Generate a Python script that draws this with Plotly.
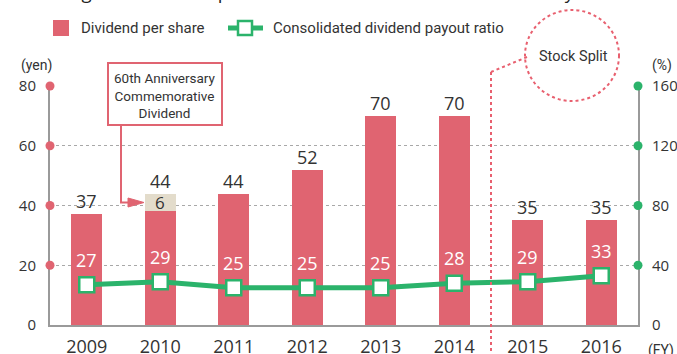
import plotly.graph_objects as go

# ---- data -------------------------------------------------------------
fiscal_years = ["2009", "2010", "2011", "2012", "2013", "2014", "2015", "2016"]
dividend_per_share = [37, 44, 44, 52, 70, 70, 35, 35]          # yen, total
commemorative_dividend = [0, 6, 0, 0, 0, 0, 0, 0]               # yen, 60th anniversary part
payout_ratio = [27, 29, 25, 25, 25, 28, 29, 33]                 # %
yen_ticks = [0, 20, 40, 60, 80]
pct_ticks = [0, 40, 80, 120, 160]

ordinary_dividend = [t - c for t, c in zip(dividend_per_share, commemorative_dividend)]
xs = list(range(len(fiscal_years)))

# ---- styling ----------------------------------------------------------
W, H = 677, 354
ML, MR, MT, MB = 50, 39, 86, 29
PW, PH = W - ML - MR, H - MT - MB
RED = "#E06471"
BEIGE = "#E3DCCB"
GREEN = "#2BB36B"
AXIS = "#9A9A9A"
TEXT = "#333333"
NUM_FONT = "Open Sans"
LBL_FONT = "Roboto"


def px(x):
    """pixel x -> paper x"""
    return (x - ML) / PW


def py(y):
    """pixel y (from top) -> paper y"""
    return (H - MB - y) / PH


def label(x, y, text, size, xanchor="center", family=LBL_FONT, color=TEXT, yanchor="middle"):
    return dict(x=px(x), y=py(y), xref="paper", yref="paper", xanchor=xanchor, yanchor=yanchor,
                text=text, showarrow=False, font=dict(family=family, size=size, color=color))


fig = go.Figure()

# stacked dividend bars
fig.add_trace(go.Bar(x=xs, y=ordinary_dividend, width=0.42, marker=dict(color=RED, line_width=0),
                     showlegend=False, hoverinfo="skip"))
fig.add_trace(go.Bar(x=xs, y=commemorative_dividend, width=0.42, marker=dict(color=BEIGE, line_width=0),
                     showlegend=False, hoverinfo="skip"))

# payout ratio line on the right axis
fig.add_trace(go.Scatter(x=xs, y=payout_ratio, yaxis="y2", mode="lines+markers",
                         line=dict(color=GREEN, width=5),
                         marker=dict(symbol="square", size=15, color="white",
                                     line=dict(color=GREEN, width=2.5)),
                         cliponaxis=False, showlegend=False, hoverinfo="skip"))

# tick dots on the axis lines
fig.add_trace(go.Scatter(x=[-0.5] * 4, y=yen_ticks[1:], mode="markers",
                         marker=dict(color=RED, size=9), cliponaxis=False,
                         showlegend=False, hoverinfo="skip"))
fig.add_trace(go.Scatter(x=[7.5] * 4, y=pct_ticks[1:], yaxis="y2", mode="markers",
                         marker=dict(color=GREEN, size=9), cliponaxis=False,
                         showlegend=False, hoverinfo="skip"))

ann = []
# dividend totals above bars
for x, v in zip(xs, dividend_per_share):
    ann.append(dict(x=x, y=v, xref="x", yref="y", text=str(v), showarrow=False,
                    xanchor="center", yanchor="middle", yshift=13,
                    font=dict(family=NUM_FONT, size=18, color=TEXT)))
# commemorative amount inside its segment
for x, o, c in zip(xs, ordinary_dividend, commemorative_dividend):
    if c:
        ann.append(dict(x=x, y=o + c / 2, xref="x", yref="y", text=str(c), showarrow=False,
                        xanchor="center", yanchor="middle",
                        font=dict(family=NUM_FONT, size=17, color=TEXT)))
# payout ratio labels
for x, v in zip(xs, payout_ratio):
    ann.append(dict(x=x, y=v, xref="x", yref="y2", text=str(v), showarrow=False,
                    xanchor="center", yanchor="middle", yshift=25,
                    font=dict(family=NUM_FONT, size=18, color="white")))

# unit labels
ann.append(label(36, 65, "(yen)", 14))
ann.append(label(662, 65, "(%)", 14))
ann.append(label(661, 350, "(FY)", 14))

# title line, mostly above the page
ann.append(label(35, 6, "Changes in Dividend per Share and Consolidated Dividend Payout Ratio", 18.5,
                 xanchor="left", family=NUM_FONT, color="#222222", yanchor="bottom"))

# legend
ann.append(label(79, 28, "Dividend per share", 15, xanchor="left"))
ann.append(label(271, 28, "Consolidated dividend payout ratio", 15, xanchor="left"))

# anniversary callout
ann.append(label(165, 95, "60th Anniversary<br>Commemorative<br>Dividend", 13.5))

# stock split label
ann.append(label(573, 57, "Stock Split", 14.5))

shapes = []
# legend swatches
shapes.append(dict(type="rect", xref="paper", yref="paper", x0=px(53), x1=px(69), y0=py(36), y1=py(20),
                   fillcolor=RED, line_width=0))
shapes.append(dict(type="line", xref="paper", yref="paper", x0=px(228), x1=px(263), y0=py(28), y1=py(28),
                   line=dict(color=GREEN, width=5)))
shapes.append(dict(type="rect", xref="paper", yref="paper", x0=px(238), x1=px(252), y0=py(35), y1=py(21),
                   fillcolor="white", line=dict(color=GREEN, width=2.5)))

# callout box and arrow
shapes.append(dict(type="rect", xref="paper", yref="paper", x0=px(108), x1=px(222), y0=py(125), y1=py(63),
                   fillcolor="white", line=dict(color=RED, width=2)))
ay = py(H - MB - 41 * PH / 80)
shapes.append(dict(type="path", xref="paper", yref="paper",
                   path=f"M {px(121)},{py(125)} L {px(121)},{ay} L {px(130)},{ay}",
                   line=dict(color=RED, width=2)))
shapes.append(dict(type="path", xref="paper", yref="paper",
                   path=f"M {px(128)},{ay + 4.5 / PH} L {px(144)},{ay} L {px(128)},{ay - 4.5 / PH} Z",
                   fillcolor=RED, line=dict(color=RED, width=1)))

# stock split marker
shapes.append(dict(type="circle", xref="paper", yref="paper", x0=px(525), x1=px(619), y0=py(101), y1=py(10),
                   line=dict(color="#E8606F", width=2, dash="dot")))
shapes.append(dict(type="line", xref="paper", yref="paper", x0=px(527), y0=py(57), x1=px(491), y1=py(72),
                   line=dict(color="#E8606F", width=2, dash="dot")))
shapes.append(dict(type="line", xref="x", yref="paper", x0=5.5, x1=5.5, y0=py(72), y1=py(356),
                   line=dict(color="#E8606F", width=2, dash="dot")))

fig.update_layout(
    width=W, height=H,
    margin=dict(l=ML, r=MR, t=MT, b=MB, pad=0, autoexpand=False),
    paper_bgcolor="white", plot_bgcolor="white",
    barmode="stack", bargap=0,
    showlegend=False,
    xaxis=dict(range=[-0.5, 7.5], tickvals=xs, ticktext=fiscal_years, showgrid=False, zeroline=False,
               showline=True, linecolor=AXIS, linewidth=2, ticks="", layer="below traces",
               automargin=False,
               tickfont=dict(family=NUM_FONT, size=18, color=TEXT), ticklabelstandoff=4),
    yaxis=dict(range=[0, 80], tickvals=yen_ticks, showgrid=True, gridcolor="#A8A8A8", gridwidth=1,
               griddash="dot", zeroline=False, showline=True, linecolor=AXIS, linewidth=2, ticks="",
               layer="below traces", automargin=False,
               tickfont=dict(family=NUM_FONT, size=15, color=TEXT), ticklabelstandoff=9),
    yaxis2=dict(range=[0, 160], tickvals=pct_ticks, overlaying="y", side="right", showgrid=False,
                zeroline=False, showline=True, linecolor=AXIS, linewidth=2, ticks="",
                layer="below traces", automargin=False,
                tickfont=dict(family=NUM_FONT, size=15, color=TEXT), ticklabelstandoff=9),
    annotations=ann,
    shapes=shapes,
)

fig.write_html("out.html")
